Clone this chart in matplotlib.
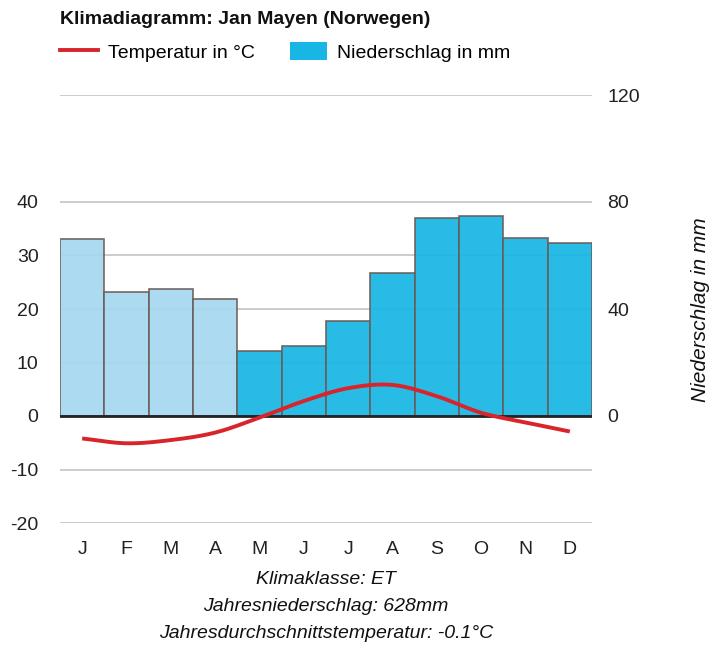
import numpy as np
import matplotlib
matplotlib.use('Agg')
import matplotlib.pyplot as plt
from matplotlib.lines import Line2D
from matplotlib.patches import Patch

plt.rcParams['font.family'] = ['Liberation Sans', 'DejaVu Sans']
plt.rcParams['axes.unicode_minus'] = False

months = ['J', 'F', 'M', 'A', 'M', 'J', 'J', 'A', 'S', 'O', 'N', 'D']
temp = [-4.2, -5.1, -4.5, -3.1, -0.3, 2.8, 5.2, 5.8, 3.7, 0.6, -1.2, -2.9]
precip = [66, 46.5, 47.4, 43.7, 24.4, 26.3, 35.6, 53.6, 73.9, 74.6, 66.6, 64.7]
dry = [True, True, True, True, False, False, False, False, False, False, False, False]
temp_ticks = [-20, -10, 0, 10, 20, 30, 40]
precip_ticks = [0, 40, 80, 120]
footer = ['Klimaklasse: ET', 'Jahresniederschlag: 628mm',
          'Jahresdurchschnittstemperatur: -0.1°C']

RED = '#d8242b'
DARK = '#17b6e5'
LIGHT = '#a6d8ef'
EDGE = '#6b5c58'
GRID = '#c8c8c8'
FS = 14


def smooth(xs, ys, n=20):
	# catmull-rom so the line looks like the original curved one
	xs = np.asarray(xs, float); ys = np.asarray(ys, float)
	px = np.concatenate([[2*xs[0]-xs[1]], xs, [2*xs[-1]-xs[-2]]])
	py = np.concatenate([[2*ys[0]-ys[1]], ys, [2*ys[-1]-ys[-2]]])
	ox, oy = [], []
	t = np.linspace(0, 1, n, endpoint=False)
	for i in range(1, len(px)-2):
		for p, o in ((px, ox), (py, oy)):
			p0, p1, p2, p3 = p[i-1], p[i], p[i+1], p[i+2]
			o.extend(0.5*((2*p1) + (-p0+p2)*t + (2*p0-5*p1+4*p2-p3)*t**2 + (-p0+3*p1-3*p2+p3)*t**3))
	ox.append(xs[-1]); oy.append(ys[-1])
	return ox, oy


fig = plt.figure(figsize=(7.11, 6.46), dpi=100)
ax = fig.add_axes([60/711, 1-523/646, 532/711, 428/646])
ax2 = ax.twinx()

# grid sits under the bars, bars slightly see-through like the original
for yv in temp_ticks + [60]:
	if yv != 0:
		ax2.axhline(yv*2, color=GRID, lw=1.3, zorder=0)

x = np.arange(1, 13)
ax2.bar(x, precip, width=1.0, color=[LIGHT if d else DARK for d in dry],
	edgecolor=EDGE, linewidth=1.2, alpha=0.93, zorder=2)
ax2.set_ylim(-40, 120)
ax2.set_yticks(precip_ticks)

ax.set_ylim(-20, 60)
ax.set_xlim(0.5, 12.5)
ax.set_yticks(temp_ticks)
ax.set_xticks(x, months)

ax.set_zorder(ax2.get_zorder() + 1)
ax.patch.set_visible(False)
ax.axhline(0, color='#222222', lw=2, zorder=3)
sx, sy = smooth(x, temp)
ax.plot(sx, sy, color=RED, lw=2.8, zorder=4, solid_capstyle='butt')

for a in (ax, ax2):
	for s in a.spines.values():
		s.set_visible(False)
	a.tick_params(length=0, labelsize=FS, colors='#222222')
ax.tick_params(axis='y', pad=15.5)
ax.tick_params(axis='x', pad=13)
ax2.tick_params(axis='y', pad=11)

fig.text(60/711, 1-20/646, 'Klimadiagramm: Jan Mayen (Norwegen)', fontsize=FS,
	fontweight='bold', va='center', ha='left', color='#111111')
handles = [Line2D([], [], color=RED, lw=2.8), Patch(facecolor=DARK, edgecolor='none')]
fig.legend(handles, ['Temperatur in °C', 'Niederschlag in mm'], ncol=2, frameon=False,
	loc='center left', bbox_to_anchor=(60/711, 1-52/646), fontsize=FS,
	borderpad=0, borderaxespad=0,
	handlelength=1.95, handleheight=1.0, handletextpad=0.5, columnspacing=1.8)

fig.text(700/711, 1-310/646, 'Niederschlag in mm', rotation=90, fontsize=15,
	style='italic', ha='center', va='center', color='#111111')
for i, line in enumerate(footer):
	fig.text(326/711, 1-(580+26.5*i)/646, line, fontsize=FS, style='italic',
		ha='center', va='center', color='#111111')

fig.savefig('out.png', dpi=100, facecolor='white')
